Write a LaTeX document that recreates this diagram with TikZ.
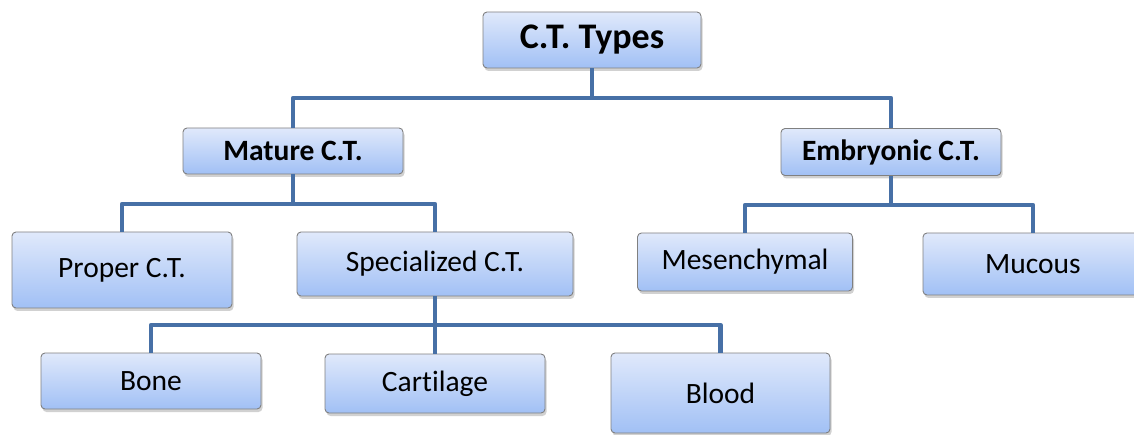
\documentclass[tikz,border=0pt]{standalone}
\usepackage{fontspec}
\setmainfont{Carlito}[Ligatures=NoCommon]
\usetikzlibrary{shadows}
\definecolor{conncol}{HTML}{4770A6}
\definecolor{boxtop}{HTML}{E0E9FB}
\definecolor{boxbot}{HTML}{A1C0F5}
\definecolor{boxline}{HTML}{808080}
\tikzset{
  box/.style={draw=boxline, line width=0.9pt, rounded corners=4pt,
    top color=boxtop, bottom color=boxbot, inner sep=0pt, align=center,
    font=\fontsize{29.5}{34}\selectfont,
    drop shadow={opacity=0.3, shadow xshift=1.5pt, shadow yshift=-3pt, fill=black!60}},
  headbox/.style={box, font=\fontsize{29.5}{34}\selectfont\bfseries},
  topbox/.style={box, font=\fontsize{36}{42}\selectfont\bfseries},
  conn/.style={draw=conncol, line width=4.8pt, line join=round}
}
\begin{document}
\begin{tikzpicture}[x=1pt,y=-1pt]
\useasboundingbox (0,0) rectangle (1134,435);
% nodes
\node[topbox, minimum width=218pt, minimum height=56pt] (types) at (592,40) {C.T. Types};
\node[headbox, minimum width=220pt, minimum height=46pt] (mature) at (293,151) {Mature C.T.};
\node[headbox, minimum width=220pt, minimum height=47pt] (embryo) at (891,152) {Embryonic C.T.};
\node[box, minimum width=220pt, minimum height=76pt] (proper) at (122,270) {Proper C.T.};
\node[box, minimum width=276pt, minimum height=64pt] (special) at (435,264) {Specialized C.T.};
\node[box, minimum width=215pt, minimum height=58pt] (mesen) at (745,262) {Mesenchymal};
\node[box, minimum width=220pt, minimum height=62pt] (mucous) at (1033,264) {Mucous};
\node[box, minimum width=220pt, minimum height=56pt] (bone) at (151,381) {Bone};
\node[box, minimum width=220pt, minimum height=59pt] (cart) at (435,383.5) {Cartilage};
\node[box, minimum width=219pt, minimum height=80pt] (blood) at (720.5,393) {Blood};
% junctions
\coordinate (j1) at (592,98);
\coordinate (j2) at (293,204);
\coordinate (j3) at (891,205);
\coordinate (j4) at (435,325);
% connectors
\draw[conn] (types.south) -- (j1);
\draw[conn] (mature.north) |- (j1) -| (embryo.north);
\draw[conn] (mature.south) -- (j2);
\draw[conn] (proper.north) |- (j2) -| (special.north);
\draw[conn] (embryo.south) -- (j3);
\draw[conn] (mesen.north) |- (j3) -| (mucous.north);
\draw[conn] (special.south) -- (j4);
\draw[conn] (bone.north) |- (j4) -| (blood.north);
\draw[conn] (j4) -- (cart.north);
\end{tikzpicture}
\end{document}
